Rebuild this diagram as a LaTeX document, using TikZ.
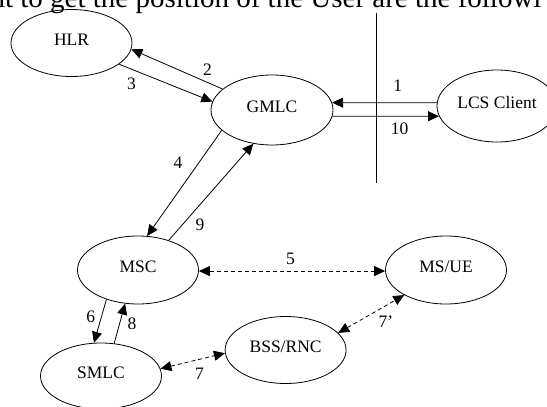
\documentclass[tikz,border=0pt]{standalone}
\usepackage{fontspec}
\setmainfont{Liberation Serif}
\usetikzlibrary{arrows.meta,shapes.geometric}
\begin{document}
\begin{tikzpicture}[x=1pt,y=-1pt,
  ent/.style={ellipse,draw,line width=0.8pt,minimum width=121pt,minimum height=67pt,inner sep=0pt,
    text height=12pt,text depth=6.4pt,font=\fontsize{17.5}{20}\selectfont},
  lbl/.style={inner sep=0pt,font=\fontsize{17.5}{20}\selectfont},
  msg/.style={line width=0.8pt,-{Triangle[length=11pt,width=10pt]}},
  dmsg/.style={line width=0.8pt,dash pattern=on 4pt off 3pt,
    {Triangle[length=11pt,width=10pt]}-{Triangle[length=11pt,width=10pt]}}]
\useasboundingbox (0,0) rectangle (547,407);
\clip (0,0) rectangle (547,407);
% clipped text line at the top
\node[anchor=base west,inner sep=0pt,font=\fontsize{29}{32}\selectfont] (toptext) at (-9.6,7.4)
  {nt to get the position of the User are the followi};
% nodes
\node[ent] (hlr) at (71.5,43) {HLR};
\node[ent,minimum width=122pt,minimum height=70pt] (gmlc) at (272,110) {GMLC};
\node[ent,minimum width=120pt,minimum height=72pt] (lcs) at (497,106) {LCS Client};
\node[ent,minimum height=68pt] (msc) at (138,270) {MSC};
\node[ent,minimum height=68pt] (msue) at (446,270) {MS/UE};
\node[ent] (bss) at (285.6,350) {BSS/RNC};
\node[ent,minimum height=66pt] (smlc) at (101,376) {SMLC};
% separator line
\coordinate (vtop) at (376,13);
\coordinate (vbot) at (376,183);
\draw[line width=0.8pt] (vtop) -- (vbot);
% messages
\draw[msg] (gmlc.157.1) -- (hlr.-6.5);
\draw[msg] (hlr.-24.4) -- (gmlc.172.4);
\draw[msg] (lcs.177) -- (gmlc.7.4);
\draw[msg] (gmlc.-6.8) -- (lcs.190.8);
\draw[msg] (gmlc.202.2) -- (msc.75.2);
\draw[msg] (msc.44.1) -- (gmlc.241.6);
\draw[dmsg] (msc.-1.6) -- (msue.181.7);
\draw[msg] (msc.223.9) -- (smlc.102.9);
\draw[msg] (smlc.68.7) -- (msc.249.6);
\draw[dmsg] (smlc.7.3) -- (bss.183.1);
\draw[dmsg] (bss.18.9) -- (msue.211.5);
% labels
\node[lbl] (l1) at (397.8,86) {1};
\node[lbl] (l2) at (207.6,70) {2};
\node[lbl] (l3) at (131.6,84) {3};
\node[lbl] (l4) at (178,163) {4};
\node[lbl] (l5) at (290.6,259.3) {5};
\node[lbl] (l6) at (90.7,316.7) {6};
\node[lbl] (l7) at (199.6,373.3) {7};
\node[lbl] (l7p) at (386,321.7) {7’};
\node[lbl] (l8) at (131.9,323.3) {8};
\node[lbl] (l9) at (200,225) {9};
\node[lbl] (l10) at (399.5,128.3) {10};
\end{tikzpicture}
\end{document}
